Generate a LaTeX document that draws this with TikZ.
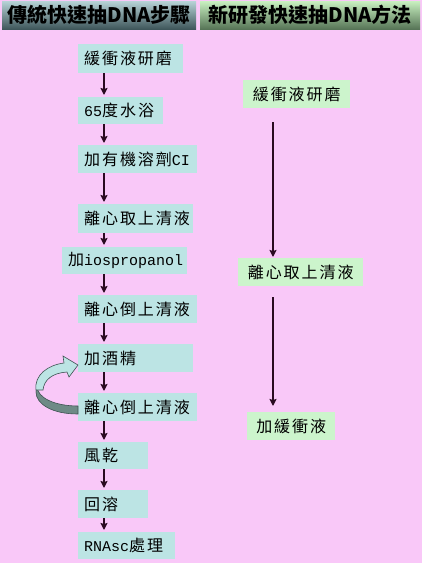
\documentclass[tikz,border=0pt]{standalone}
\usepackage{fontspec}
\setmainfont{Noto Sans CJK TC}
\newfontfamily\latn{Liberation Mono}
\usetikzlibrary{arrows.meta}
\definecolor{bg}{HTML}{F9C8F8}
\definecolor{lbox}{HTML}{BCE4E4}
\definecolor{rbox}{HTML}{CCF4CC}
\definecolor{arrc}{HTML}{2A0A20}
\definecolor{ribbon}{HTML}{6E8A86}
\definecolor{ribedge}{HTML}{3E5252}
\newcommand\stepbx[2]{\makebox[#1][l]{#2}}
\newcommand\latxt[1]{{\latn\fontsize{15}{18}\selectfont #1}}
\tikzset{
  x=1pt, y=1pt,
  stepfont/.style={font=\fontsize{16}{19}\selectfont\addfontfeature{LetterSpace=12}},
  lstep/.style={stepfont, fill=lbox, anchor=north west, inner xsep=6pt, inner ysep=0pt, minimum height=#1},
  rstep/.style={stepfont, fill=rbox, anchor=north west, inner xsep=0pt, inner ysep=0pt, minimum height=28pt},
  hdr/.style={anchor=north west, minimum height=28pt, inner sep=0pt, font=\fontsize{20}{24}\selectfont\bfseries},
  arrw/.style={line width=2pt, draw=arrc, -{Stealth[length=7pt,width=7pt,inset=1pt]}, shorten >=2pt}
}
\begin{document}
\begin{tikzpicture}
\fill[bg] (0,0) rectangle (422,-563);
\useasboundingbox (0,0) rectangle (422,-563);
% headers
\node[hdr, top color={rgb,255:red,182;green,210;blue,214}, bottom color={rgb,255:red,62;green,86;blue,90}, minimum width=194pt] (h1) at (2,-1) {傳統快速抽DNA步驟};
\node[hdr, top color={rgb,255:red,200;green,240;blue,192}, bottom color={rgb,255:red,86;green,116;blue,86}, minimum width=220pt] (h2) at (200,-1) {新研發快速抽DNA方法};
% left column
\node[lstep=29pt] (a1) at (78,-44) {\stepbx{93pt}{緩衝液研磨}};
\node[lstep=27pt] (a2) at (78,-97) {\stepbx{73pt}{\latxt{65}度水浴}};
\node[lstep=28pt] (a3) at (78,-145) {\stepbx{107pt}{加有機溶劑\latxt{CI}}};
\node[lstep=29pt] (a4) at (78,-204) {\stepbx{103pt}{離心取上清液}};
\node[lstep=27pt] (a5) at (62,-247) {\stepbx{113pt}{加\latxt{iospropanol}}};
\node[lstep=28pt] (a6) at (78,-295) {\stepbx{107pt}{離心倒上清液}};
\node[lstep=28pt] (a7) at (78,-344) {\stepbx{103pt}{加酒精}};
\node[lstep=28pt] (a8) at (78,-393) {\stepbx{107pt}{離心倒上清液}};
\node[lstep=27pt] (a9) at (78,-442) {\stepbx{58pt}{風乾}};
\node[lstep=28pt] (a10) at (78,-490) {\stepbx{58pt}{回溶}};
\node[lstep=27pt] (a11) at (78,-532) {\stepbx{85pt}{\latxt{RNAsc}處理}};
\coordinate (xl) at (104,0);
\foreach \i/\j in {a1/a2,a2/a3,a3/a4,a4/a5,a5/a6,a6/a7,a7/a8,a8/a9,a9/a10,a10/a11}
  \draw[arrw] (\i.south -| xl) -- (\j.north -| xl);
% right column
\node[rstep, minimum width=107pt] (b1) at (243,-80) {緩衝液研磨};
\node[rstep, minimum width=125pt] (b2) at (238,-258) {離心取上清液};
\node[rstep, minimum width=88pt] (b3) at (247,-412) {加緩衝液};
\coordinate (xr) at (273,0);
\draw[arrw, shorten <=14pt, shorten >=1pt] (b1.south -| xr) -- (b2.north -| xr);
\draw[arrw, shorten <=11pt, shorten >=6pt] (b2.south -| xr) -- (b3.north -| xr);
% loop-back ribbon arrow from a8 to a7
\filldraw[fill=ribbon, draw=ribedge, line width=0.6pt]
  (37,-386) .. controls (37,-398) and (55,-406) .. (a8.west |- 0,-406)
  -- (a8.west |- 0,-414) .. controls (52,-414) and (36,-404) .. (36,-392) -- cycle;
\filldraw[fill=lbox, draw=ribedge, line width=0.6pt]
  (36,-390) .. controls (34,-375) and (48,-365) .. (64,-363)
  -- (63,-356) -- (a7.west |- 0,-365) -- (69,-377) -- (67,-372)
  .. controls (52,-373) and (44,-380) .. (43,-390) -- cycle;
\end{tikzpicture}
\end{document}
